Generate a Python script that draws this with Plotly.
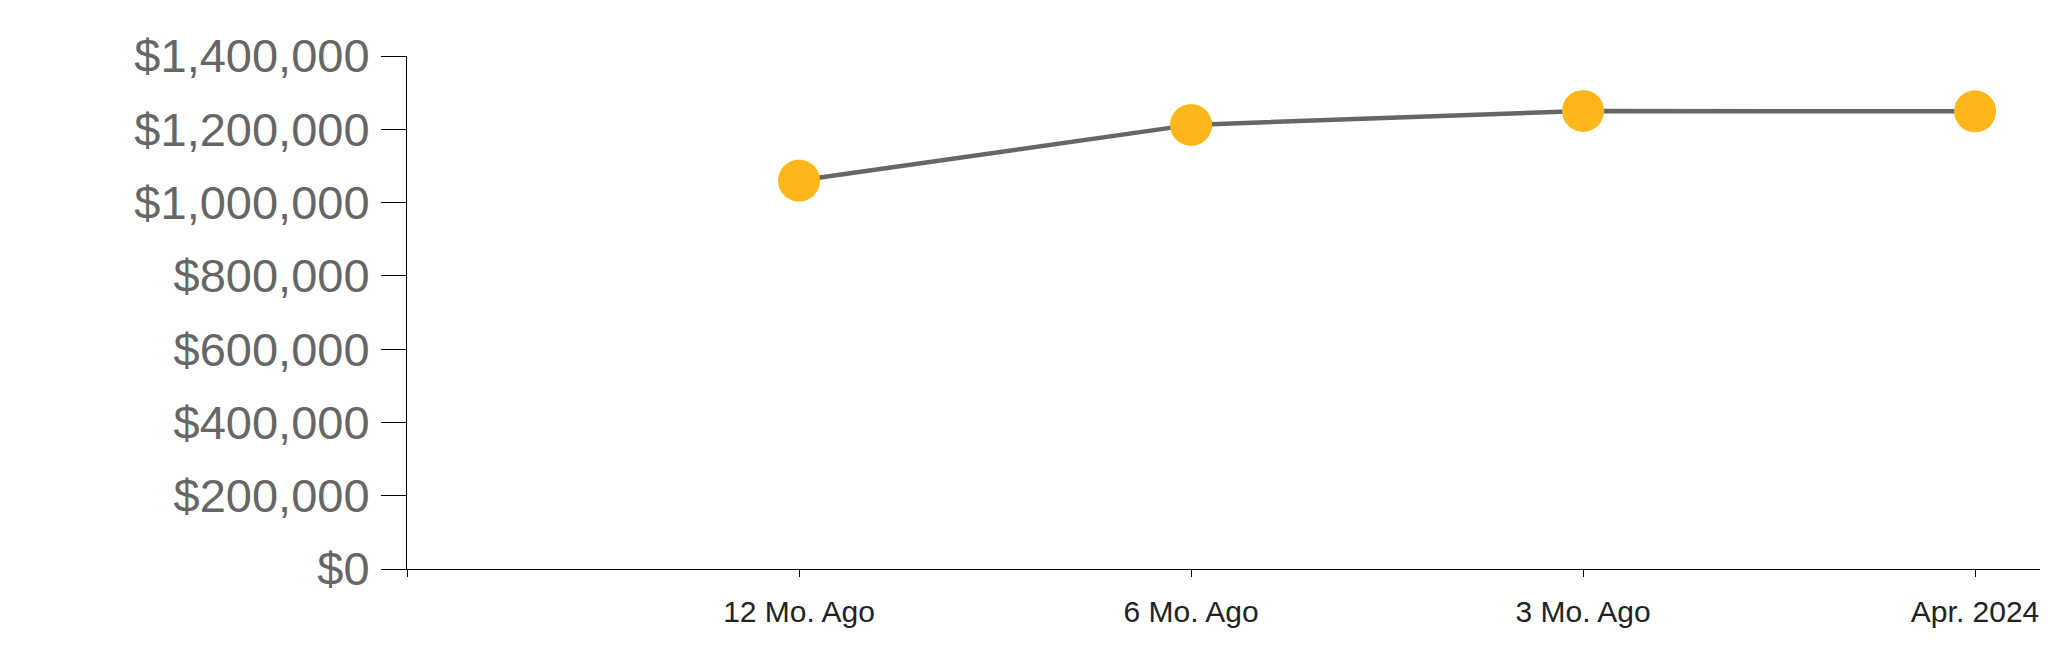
import plotly.graph_objects as go

categories = ["12 Mo. Ago", "6 Mo. Ago", "3 Mo. Ago", "Apr. 2024"]
values = [1060000, 1212000, 1250000, 1249000]
y_ticks = [0, 200000, 400000, 600000, 800000, 1000000, 1200000, 1400000]

xpos = list(range(1, len(categories) + 1))
y_ticktext = ["${:,}".format(v) for v in y_ticks]

fig = go.Figure()
fig.add_trace(go.Scatter(
    x=xpos, y=values, mode="lines+markers",
    line=dict(color="#666666", width=4.5),
    marker=dict(color="#FDB71A", size=42, line=dict(width=0)),
    hoverinfo="skip",
))

fig.update_layout(
    width=2040, height=655,
    margin=dict(l=399, r=0, t=48, b=94),
    paper_bgcolor="white", plot_bgcolor="white",
    showlegend=False,
    font=dict(family="Liberation Sans, Arial, sans-serif"),
)
fig.update_xaxes(
    range=[0, 4.186], automargin=False,
    tickvals=[0] + xpos, ticktext=[""] + categories,
    showgrid=False, zeroline=False,
    showline=True, linecolor="black", linewidth=1,
    ticks="outside", ticklen=7, tickcolor="black", tickwidth=1,
    tickfont=dict(size=30, color="#222222"),
    ticklabelstandoff=9,
)
fig.update_yaxes(
    range=[0, 1400000], automargin=False,
    tickvals=y_ticks, ticktext=y_ticktext,
    showgrid=False, zeroline=False,
    showline=True, linecolor="black", linewidth=1,
    ticks="outside", ticklen=25, tickcolor="black", tickwidth=1,
    tickfont=dict(size=47, color="#666666"),
    ticklabelstandoff=2,
)

fig.write_html("out.html")
